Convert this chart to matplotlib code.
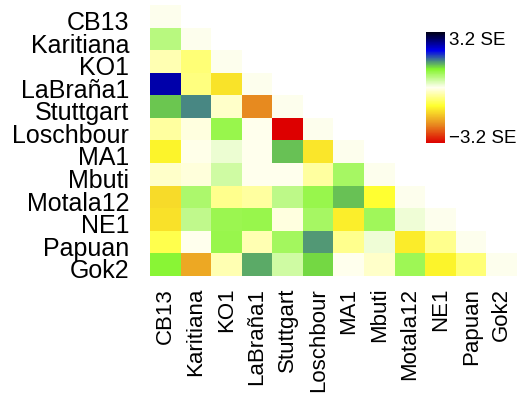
import numpy as np
import matplotlib
matplotlib.use("Agg")
import matplotlib.pyplot as plt
from matplotlib.colors import LinearSegmentedColormap
from matplotlib.transforms import ScaledTranslation

plt.rcParams["font.family"] = ["Liberation Sans", "DejaVu Sans"]

populations = ["CB13", "Karitiana", "KO1", "LaBraña1", "Stuttgart", "Loschbour",
               "MA1", "Mbuti", "Motala12", "NE1", "Papuan", "Gok2"]

# Z-scores (in SE units), lower triangle, one row per population
cb13      = [0.0]
karitiana = [0.60, 0.0]
ko1       = [-0.35, -0.66, 0.0]
labrana1  = [2.47, -0.61, -1.31, 0.0]
stuttgart = [1.25, 1.54, -0.22, -2.13, 0.0]
loschbour = [-0.44, -0.08, 0.88, -0.02, -3.2, 0.0]
ma1       = [-1.16, -0.03, 0.16, -0.02, 1.28, -1.28, 0.0]
mbuti     = [-0.22, -0.11, 0.40, -0.02, -0.02, -0.44, 0.77, 0.0]
motala12  = [-1.39, 0.70, -0.55, -0.44, 0.57, 0.88, 1.28, -1.04, 0.0]
ne1       = [-1.35, 0.53, 0.86, 0.88, -0.08, 0.77, -1.21, 0.82, 0.13, 0.0]
papuan    = [-0.88, -0.02, 0.88, -0.33, 0.78, 1.47, -0.55, 0.13, -1.25, -0.55, 0.0]
gok2      = [1.00, -1.86, -0.33, 1.39, 0.40, 1.19, -0.02, -0.22, 0.85, -1.16, -0.66, 0.0]

rows = [cb13, karitiana, ko1, labrana1, stuttgart, loschbour,
        ma1, mbuti, motala12, ne1, papuan, gok2]

zmax = 3.2

n = len(populations)
grid = np.full((n, n), np.nan)
for i, r in enumerate(rows):
    grid[i, :len(r)] = r
masked = np.ma.masked_invalid(grid)

cmap = LinearSegmentedColormap.from_list(
    "se_ramp",
    ["#DD0000", "#E88C20", "#FFFF2D", "#FFFFF0", "#84F52C", "#0000F0", "#000014"],
    N=256)
cmap.set_bad("white")

fig = plt.figure(figsize=(5.24, 4.01), dpi=100)
W, H = 524, 401

def px_axes(x0, y0, x1, y1):
    return fig.add_axes([x0 / W, 1 - y1 / H, (x1 - x0) / W, (y1 - y0) / H])

ax = px_axes(150, 5, 517, 276)
im = ax.imshow(masked, cmap=cmap, vmin=-zmax, vmax=zmax,
               aspect="auto", interpolation="nearest")
for s in ax.spines.values():
    s.set_visible(False)
ax.set_xticks(range(n))
ax.set_yticks(range(n))
ax.set_xticklabels(populations, rotation=90, fontsize=16)
ax.set_yticklabels(populations, fontsize=18)
ax.tick_params(axis="both", length=0)
ax.tick_params(axis="x", pad=8.5)
ax.tick_params(axis="y", pad=15)
shift = ScaledTranslation(0, -3 / 72, fig.dpi_scale_trans)
for lab in ax.get_yticklabels():
    lab.set_transform(lab.get_transform() + shift)

cax = px_axes(426, 32, 445, 143)
cb = fig.colorbar(im, cax=cax)
cb.outline.set_visible(False)
cb.set_ticks([])

fig.text(449 / W, 1 - 32 / H, "3.2 SE", fontsize=13.5, ha="left", va="top")
fig.text(449 / W, 1 - 143 / H, "\u22123.2 SE", fontsize=13.5, ha="left", va="baseline")

fig.savefig("out.png", dpi=100)
